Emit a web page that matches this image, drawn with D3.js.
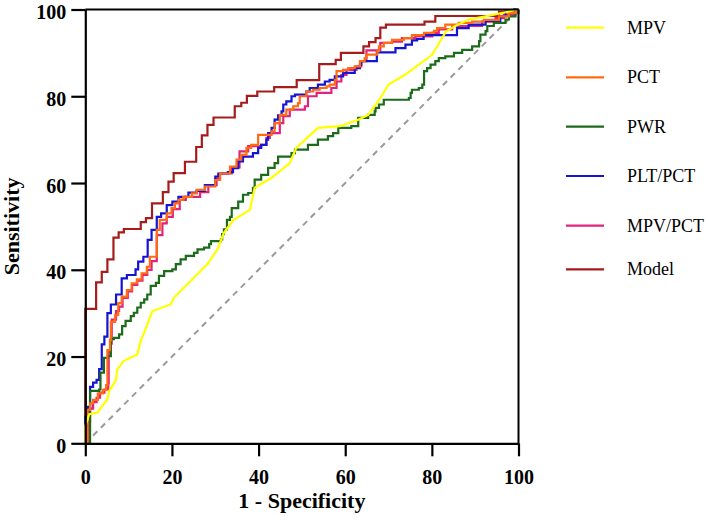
<!DOCTYPE html>
<html>
<head>
<meta charset="utf-8">
<script src="https://cdn.jsdelivr.net/npm/d3@7"></script>
<style>
  html, body { margin: 0; padding: 0; background: #fff; }
  svg { display: block; }
</style>
</head>
<body>
<svg id="chart" width="709" height="524"></svg>
<script>
const xTicks = [0, 20, 40, 60, 80, 100];
const yTicks = [0, 20, 40, 60, 80, 100];
const xTitle = "1 - Specificity";
const yTitle = "Sensitivity";

const seriesNames = ["MPV", "PCT", "PWR", "PLT/PCT", "MPV/PCT", "Model"];
const seriesColors = ["#ffff00", "#ff6a13", "#1b6b1b", "#1414d4", "#e0237d", "#a51c1c"];
const seriesStep = [false, true, true, true, true, true];

const mpv = [[0,0],[0,4],[0.9,6.7],[2.8,7.1],[3.9,8.6],[5.1,10.1],[5.5,12.1],[7,14.4],[7.4,17.1],[8.9,19],[12,20.5],[12.8,23.6],[13.6,25.5],[15.5,30.5],[19.7,32],[20.5,33.6],[22.8,35.9],[25.1,38.2],[28.2,41.3],[30.5,44.7],[32,48.5],[34.2,51.5],[38,53.8],[39.1,58.9],[43,61.2],[47.2,64.6],[48.7,68.1],[53.7,72.7],[58.8,73.1],[63,74.6],[65.3,75.7],[67.6,78.8],[70,82.7],[73.9,85],[77,87.3],[80.1,89.6],[83.3,95],[85.4,96.2],[88.5,97.7],[92.4,98.4],[96.2,99.2],[100,100]];

const pct = [[0,0],[0.5,7.7],[1.1,9.2],[1.8,10],[2.9,11.5],[4.1,12.3],[4.8,13.4],[5.1,21.5],[5.7,23.8],[5.9,28],[6.9,29.6],[7.6,32.3],[8.4,33.8],[9.6,35.3],[10.7,36.9],[11.9,37.8],[13,39.2],[14.2,40.7],[14.9,43],[16.5,49.2],[17.2,51.5],[18.8,53],[19.9,54.2],[20.7,55.3],[21.5,56.1],[22.6,56.8],[24.6,57.6],[25.7,58.4],[27.6,59.2],[30,60.7],[31.1,62.2],[33.4,63.8],[34.9,65.4],[36,66.5],[37.2,68.1],[38.3,68.8],[39.9,71.1],[43,71.9],[43.7,73.8],[44.9,75.7],[46.4,76.9],[48,77.7],[49.1,78.4],[49.5,80],[51,81.1],[52.6,81.5],[54.1,81.9],[55.7,82.3],[56.4,82.7],[57.6,83.8],[58,85.8],[59.5,86.1],[60.7,86.5],[62.2,86.9],[63.4,88.1],[64.5,88.8],[64.9,89.6],[67.4,90.4],[67.8,91.5],[68.9,92.3],[70.8,93],[73.5,93.4],[75.4,94.1],[78.2,94.6],[80.5,95.1],[81.2,95.7],[83.1,96.5],[86.2,96.9],[89.3,97.2],[92,97.6],[95.5,98.4],[97.8,99.2],[99.5,100],[100,100]];

const pwr = [[0,0],[1.1,12.1],[3.2,12.4],[3.5,16.3],[4.3,19.7],[5.2,20.1],[5.9,24],[6.6,24.3],[7.8,25.1],[8.5,27],[9.3,28.2],[10.5,29.3],[11.2,30.1],[12,31.3],[12.8,32.4],[13.6,33.2],[14.3,34.3],[15.1,36.3],[16.3,37],[17,38.6],[18.2,39.7],[20.1,40.1],[20.9,41.3],[22,42.4],[23.2,43.2],[25.1,43.9],[25.9,44.7],[27.4,45.1],[28.6,45.9],[29,46.6],[31.3,47],[31.6,48.2],[32,49.3],[32.7,51.5],[33.4,52.2],[33.8,54.2],[35.3,55.7],[36.4,57.3],[37.6,57.7],[38.7,58.9],[39.1,60.8],[40.6,61.9],[42.2,63.5],[43.7,64.6],[44.5,66.1],[47.6,66.9],[48.4,67.7],[51.4,68.8],[53.7,70],[56,70.8],[57.2,71.5],[58.4,72.7],[61.4,73.1],[63,75],[65.3,75.7],[66.8,76.5],[67,77.3],[67.8,78.1],[68.9,79.2],[74.7,79.6],[75.1,80.8],[75.4,81.5],[77,81.9],[77.8,82.7],[78.2,85.8],[78.9,86.5],[79.7,87.3],[80.8,88.1],[81.6,88.8],[83.1,89.2],[85.1,90],[87,90.7],[89.3,91.5],[90.9,92.7],[91.2,94.2],[92.4,95],[92.8,96.2],[94.3,96.9],[97,97.7],[97.8,98.4],[99.3,99.2],[100,100]];

const pltPct = [[0,0],[0,6.1],[0.55,8.4],[1.1,13],[1.8,14],[2.6,14.6],[3.2,17.1],[3.8,22.8],[4.4,24.6],[5.1,30],[5.9,32],[7.1,34.3],[8.4,38],[9.6,38.8],[11.6,40.1],[12.2,41.9],[13.4,43],[14.4,46.9],[15.3,49.2],[16.5,52.2],[17.5,53],[18.8,54.9],[20.1,55.7],[21.5,56.8],[23.8,57.8],[25.7,58.2],[27.6,59.5],[30,61.5],[30.7,62.2],[32.9,62.5],[34.1,63.4],[35.3,65],[36.4,66.1],[38.7,66.9],[39.9,68.1],[40.6,68.8],[41.8,70],[42.2,71.5],[43,72.7],[43.7,74.6],[44.5,75.6],[45.3,76.5],[45.7,78.1],[46.4,78.8],[47.6,80],[48.4,80.4],[51,81.1],[51.8,81.9],[53.7,82.7],[55.3,83.4],[56.4,83.8],[57.6,84.6],[59.5,85.4],[62.2,86.5],[63.4,87.3],[63.7,88.1],[67.3,90.1],[71.6,91.1],[73.9,91.9],[75.4,92.9],[76.6,93.2],[78.1,94.1],[85.8,95.7],[88.5,96.5],[92.4,97.4],[95.8,98.4],[97,99.5],[99,100],[100,100]];

const mpvPct = [[0,0],[0.7,5],[1.1,8],[1.8,9.5],[2.6,10.5],[3.4,11.7],[4.4,12.4],[5.3,13.8],[5.4,21],[5.8,23],[6.1,28.5],[7.1,30.5],[7.8,31.5],[8.6,33.5],[9.8,35],[10.8,36.5],[12,37.5],[13.2,38.8],[14.3,40],[15.3,42],[16.5,48],[17.8,50.7],[18.8,52.2],[20.2,54],[21.8,56.1],[23.2,56.8],[26.5,57.9],[28.4,59.5],[30.3,61.1],[31.1,62.2],[33.8,63.6],[35.6,67.3],[37.6,68.5],[40.6,68.8],[41.8,70.4],[42.6,71.5],[44.9,73.8],[45.7,75.4],[47.2,76.9],[50.7,77.7],[51.4,80],[53.4,80.8],[56.8,81.9],[58,83.4],[59.1,84.9],[60.3,86.1],[62.6,86.9],[63.7,88.1],[64.9,90.6],[68.1,92.3],[70.8,92.6],[73.1,93.4],[76.2,93.8],[80.1,94.6],[81.6,95.4],[84.7,96.2],[91.6,97.2],[94.7,98],[96.6,98.8],[99.3,100],[100,100]];

const model = [[0,0],[0,31],[2.5,37.1],[3.8,39.5],[5.1,42.4],[6.5,47.4],[7.7,48.6],[8.9,49.4],[12.8,51],[14,51.9],[15.4,55.3],[17.9,57.9],[19.2,60.3],[20.4,62.3],[23,64.9],[25.6,68.3],[26.9,71],[28.2,73.4],[29.6,75.1],[34.5,77.7],[36,78.5],[37.3,80.1],[39.7,81.1],[43.6,82.1],[48.8,83.7],[54,87.4],[57.8,88.4],[59,90],[64.2,91.5],[65.5,92.5],[67,93.4],[68.1,95.8],[69.4,96.5],[78.3,97.2],[80.8,98.5],[95.5,99.5],[99,100],[100,100]];

const seriesData = [mpv, pct, pwr, pltPct, mpvPct, model];

const svg = d3.select("#chart");
const x = d3.scaleLinear().domain([0, 100]).range([85.3, 518.5]);
const y = d3.scaleLinear().domain([0, 100]).range([443.3, 9.5]);

// reference diagonal
svg.append("line")
  .attr("x1", x(0)).attr("y1", y(0))
  .attr("x2", x(100)).attr("y2", y(100))
  .attr("stroke", "#9a9a9a").attr("stroke-width", 2)
  .attr("stroke-dasharray", "6,5");

// curves (drawn in reverse so the first series sits on top)
const order = d3.range(seriesData.length).reverse();
order.forEach(i => {
  const line = d3.line()
    .x(d => x(d[0])).y(d => y(d[1]))
    .curve(seriesStep[i] ? d3.curveStepAfter : d3.curveLinear);
  svg.append("path")
    .datum(seriesData[i])
    .attr("d", line)
    .attr("fill", "none")
    .attr("stroke", seriesColors[i])
    .attr("stroke-width", 2.2)
    .attr("stroke-linejoin", "miter");
});

// frame (top & right)
svg.append("line").attr("x1", x(0)).attr("x2", x(100)).attr("y1", y(100)).attr("y2", y(100))
  .attr("stroke", "#000").attr("stroke-width", 2);
svg.append("line").attr("x1", x(100)).attr("x2", x(100)).attr("y1", y(100)).attr("y2", y(0))
  .attr("stroke", "#000").attr("stroke-width", 2);

const serif = "'Liberation Serif', 'Times New Roman', Times, serif";

const xAxis = svg.append("g").attr("transform", `translate(0,${y(0)})`)
  .call(d3.axisBottom(x).tickValues(xTicks).tickSize(13).tickSizeOuter(0).tickPadding(14));
const yAxis = svg.append("g").attr("transform", `translate(${x(0)},0)`)
  .call(d3.axisLeft(y).tickValues(yTicks).tickSize(14).tickSizeOuter(0).tickPadding(5));

[xAxis, yAxis].forEach(g => {
  g.select(".domain").attr("stroke", "#000").attr("stroke-width", 2.2);
  g.selectAll(".tick line").attr("stroke", "#000").attr("stroke-width", 2.2);
  g.selectAll(".tick text")
    .attr("fill", "#000")
    .style("font-family", serif)
    .style("font-weight", "bold")
    .style("font-size", "20px");
});
xAxis.selectAll(".tick text").attr("dy", "0.71em");
yAxis.selectAll(".tick text").attr("dy", "0.45em");

// axis titles
svg.append("text")
  .attr("x", (x(0) + x(100)) / 2).attr("y", 508)
  .attr("text-anchor", "middle")
  .attr("fill", "#000")
  .style("font-family", serif).style("font-weight", "bold").style("font-size", "22px")
  .text(xTitle);
svg.append("text")
  .attr("transform", `translate(18.5,${(y(0) + y(100)) / 2}) rotate(-90)`)
  .attr("text-anchor", "middle")
  .attr("fill", "#000")
  .style("font-family", serif).style("font-weight", "bold").style("font-size", "22px")
  .text(yTitle);

// legend
const legendY = [27.7, 77.3, 126.7, 176, 225.7, 269.3];
seriesNames.forEach((name, i) => {
  svg.append("line")
    .attr("x1", 566).attr("x2", 604)
    .attr("y1", legendY[i]).attr("y2", legendY[i])
    .attr("stroke", seriesColors[i]).attr("stroke-width", 2.2);
  svg.append("text")
    .attr("x", 627).attr("y", legendY[i] + 6)
    .style("font-family", serif).style("font-size", "18px")
    .attr("fill", "#000")
    .text(name);
});
</script>
</body>
</html>
